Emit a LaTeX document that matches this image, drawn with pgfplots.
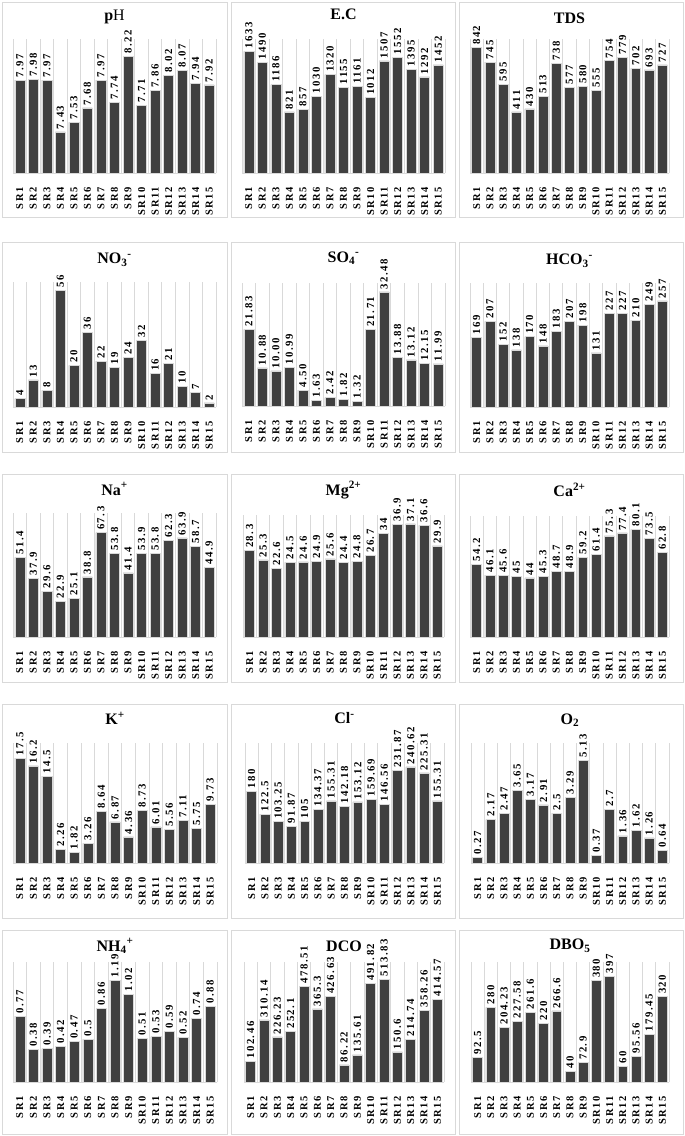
\documentclass[border=0pt]{standalone}
\usepackage{fontspec}
\setmainfont{Liberation Serif}
\newfontfamily\lsp[LetterSpace=15]{Liberation Serif}
\newfontfamily\vsp[LetterSpace=14]{Liberation Serif}
\usepackage{pgfplots}
\pgfplotsset{compat=1.18}
\definecolor{barc}{HTML}{404040}
\definecolor{gridc}{HTML}{D9D9D9}
\definecolor{framec}{HTML}{D9D9D9}
\pgfplotsset{
 panel/.style={
  scale only axis, ybar, bar width=0.74, xmin=0.5, xmax=15.5, ymin=0,
  enlargelimits=false, anchor=south west, clip=false,
  hide y axis, axis x line*=bottom,
  x axis line style={draw=gridc, line width=0.8pt, -},
  xtick={1,...,15},
  xticklabels={SR1,SR2,SR3,SR4,SR5,SR6,SR7,SR8,SR9,SR10,SR11,SR12,SR13,SR14,SR15},
  major tick length=0pt, minor tick length=0pt,
  minor xtick={0.5,1.5,...,15.5}, xminorgrids,
  minor grid style={draw=gridc, line width=0.8pt},
  xticklabel style={rotate=90, anchor=east, inner sep=1pt, font=\lsp\bfseries\fontsize{10.5}{12}\selectfont},
  xticklabel shift=13pt,
  point meta=explicit symbolic, nodes near coords,
  every node near coord/.append style={rotate=90, anchor=west, inner sep=2.5pt, font=\vsp\bfseries\fontsize{10.8}{12}\selectfont, text=black},
  title style={at={(0.5,1)}, anchor=center, font=\bfseries\fontsize{16}{18}\selectfont},
 },
 bars/.style={fill=barc, draw=gridc, line width=0.5pt},
}
\begin{document}
\begin{tikzpicture}
\useasboundingbox (0pt,0pt) rectangle (685pt,-1136pt);
% frames
\foreach \xa/\xb in {2/227,231/455,459/683}{
 \foreach \ya/\yb in {2/217,242/452,474/682,704/918,930/1134}{
  \draw[framec, line width=0.6pt] (\xa pt,-\ya pt) rectangle (\xb pt,-\yb pt);
 }
}
% ---------- Row 1 ----------
\begin{axis}[panel, at={(13pt,-173pt)}, width=203pt, height=134pt, ymin=7, ymax=8.4, title={\textbf{p}\textmd{H}}, title style={yshift=16pt}]
\addplot[bars] coordinates {(1,7.97)[7.97] (2,7.98)[7.98] (3,7.97)[7.97] (4,7.43)[7.43] (5,7.53)[7.53] (6,7.68)[7.68] (7,7.97)[7.97] (8,7.74)[7.74] (9,8.22)[8.22] (10,7.71)[7.71] (11,7.86)[7.86] (12,8.02)[8.02] (13,8.07)[8.07] (14,7.94)[7.94] (15,7.92)[7.92]};
\end{axis}
\begin{axis}[panel, at={(242pt,-173pt)}, width=203pt, height=134pt, ymax=1800, title={E.C}, title style={yshift=19pt}]
\addplot[bars] coordinates {(1,1633)[1633] (2,1490)[1490] (3,1186)[1186] (4,821)[821] (5,857)[857] (6,1030)[1030] (7,1320)[1320] (8,1155)[1155] (9,1161)[1161] (10,1012)[1012] (11,1507)[1507] (12,1552)[1552] (13,1395)[1395] (14,1292)[1292] (15,1452)[1452]};
\end{axis}
\begin{axis}[panel, at={(470pt,-173pt)}, width=199pt, height=134pt, ymax=900, title={TDS}, title style={yshift=15pt}]
\addplot[bars] coordinates {(1,842)[842] (2,745)[745] (3,595)[595] (4,411)[411] (5,430)[430] (6,513)[513] (7,738)[738] (8,577)[577] (9,580)[580] (10,555)[555] (11,754)[754] (12,779)[779] (13,702)[702] (14,693)[693] (15,727)[727]};
\end{axis}
% ---------- Row 2 ----------
\begin{axis}[panel, at={(13pt,-407pt)}, width=203pt, height=125pt, ymax=60, title={NO\textsubscript{3}\textsuperscript{-}}, title style={yshift=16pt}]
\addplot[bars] coordinates {(1,4)[4] (2,13)[13] (3,8)[8] (4,56)[56] (5,20)[20] (6,36)[36] (7,22)[22] (8,19)[19] (9,24)[24] (10,32)[32] (11,16)[16] (12,21)[21] (13,10)[10] (14,7)[7] (15,2)[2]};
\end{axis}
\begin{axis}[panel, at={(242pt,-406pt)}, width=203pt, height=123pt, ymax=35, title={SO\textsubscript{4}\textsuperscript{-}}, title style={yshift=19pt}]
\addplot[bars] coordinates {(1,21.83)[21.83] (2,10.88)[10.88] (3,10.00)[10.00] (4,10.99)[10.99] (5,4.50)[4.50] (6,1.63)[1.63] (7,2.42)[2.42] (8,1.82)[1.82] (9,1.32)[1.32] (10,21.71)[21.71] (11,32.48)[32.48] (12,13.88)[13.88] (13,13.12)[13.12] (14,12.15)[12.15] (15,11.99)[11.99]};
\end{axis}
\begin{axis}[panel, at={(470pt,-407pt)}, width=199pt, height=124pt, ymax=300, title={HCO\textsubscript{3}\textsuperscript{-}}, title style={yshift=16pt}]
\addplot[bars] coordinates {(1,169)[169] (2,207)[207] (3,152)[152] (4,138)[138] (5,170)[170] (6,148)[148] (7,183)[183] (8,207)[207] (9,198)[198] (10,131)[131] (11,227)[227] (12,227)[227] (13,210)[210] (14,249)[249] (15,257)[257]};
\end{axis}
% ---------- Row 3 ----------
\begin{axis}[panel, at={(13pt,-637pt)}, width=203pt, height=124pt, ymax=80, title={Na\textsuperscript{+}}, title style={yshift=18pt}]
\addplot[bars] coordinates {(1,51.4)[51.4] (2,37.9)[37.9] (3,29.6)[29.6] (4,22.9)[22.9] (5,25.1)[25.1] (6,38.8)[38.8] (7,67.3)[67.3] (8,53.8)[53.8] (9,41.4)[41.4] (10,53.9)[53.9] (11,53.8)[53.8] (12,62.3)[62.3] (13,63.9)[63.9] (14,58.7)[58.7] (15,44.9)[44.9]};
\end{axis}
\begin{axis}[panel, at={(243pt,-637pt)}, width=201pt, height=122pt, ymax=40, title={Mg\textsuperscript{2+}}, title style={yshift=19pt}]
\addplot[bars] coordinates {(1,28.3)[28.3] (2,25.3)[25.3] (3,22.6)[22.6] (4,24.5)[24.5] (5,24.6)[24.6] (6,24.9)[24.9] (7,25.6)[25.6] (8,24.4)[24.4] (9,24.8)[24.8] (10,26.7)[26.7] (11,34)[34] (12,36.9)[36.9] (13,37.1)[37.1] (14,36.6)[36.6] (15,29.9)[29.9]};
\end{axis}
\begin{axis}[panel, at={(470pt,-637pt)}, width=199pt, height=121pt, ymax=90, title={Ca\textsuperscript{2+}}, title style={yshift=20pt}]
\addplot[bars] coordinates {(1,54.2)[54.2] (2,46.1)[46.1] (3,45.6)[45.6] (4,45)[45] (5,44)[44] (6,45.3)[45.3] (7,48.7)[48.7] (8,48.9)[48.9] (9,59.2)[59.2] (10,61.4)[61.4] (11,75.3)[75.3] (12,77.4)[77.4] (13,80.1)[80.1] (14,73.5)[73.5] (15,62.8)[62.8]};
\end{axis}
% ---------- Row 4 ----------
\begin{axis}[panel, at={(13pt,-863pt)}, width=204pt, height=120pt, ymax=20, title={K\textsuperscript{+}}, title style={yshift=19pt}]
\addplot[bars] coordinates {(1,17.5)[17.5] (2,16.2)[16.2] (3,14.5)[14.5] (4,2.26)[2.26] (5,1.82)[1.82] (6,3.26)[3.26] (7,8.64)[8.64] (8,6.87)[6.87] (9,4.36)[4.36] (10,8.73)[8.73] (11,6.01)[6.01] (12,5.56)[5.56] (13,7.11)[7.11] (14,5.75)[5.75] (15,9.73)[9.73]};
\end{axis}
\begin{axis}[panel, at={(245pt,-863pt)}, width=199pt, height=120pt, ymax=300, title={Cl\textsuperscript{-}}, title style={yshift=19pt}]
\addplot[bars] coordinates {(1,180)[180] (2,122.5)[122.5] (3,103.25)[103.25] (4,91.87)[91.87] (5,105)[105] (6,134.37)[134.37] (7,155.31)[155.31] (8,142.18)[142.18] (9,153.12)[153.12] (10,159.69)[159.69] (11,146.56)[146.56] (12,231.87)[231.87] (13,240.62)[240.62] (14,225.31)[225.31] (15,155.31)[155.31]};
\end{axis}
\begin{axis}[panel, at={(471pt,-863pt)}, width=198pt, height=120pt, ymax=6, title={O\textsubscript{2}}, title style={yshift=17pt}]
\addplot[bars] coordinates {(1,0.27)[0.27] (2,2.17)[2.17] (3,2.47)[2.47] (4,3.65)[3.65] (5,3.17)[3.17] (6,2.91)[2.91] (7,2.5)[2.5] (8,3.29)[3.29] (9,5.13)[5.13] (10,0.37)[0.37] (11,2.7)[2.7] (12,1.36)[1.36] (13,1.62)[1.62] (14,1.26)[1.26] (15,0.64)[0.64]};
\end{axis}
% ---------- Row 5 ----------
\begin{axis}[panel, at={(13pt,-1082pt)}, width=204pt, height=120pt, ymax=1.4, title={NH\textsubscript{4}\textsuperscript{+}}, title style={yshift=10pt}]
\addplot[bars] coordinates {(1,0.77)[0.77] (2,0.38)[0.38] (3,0.39)[0.39] (4,0.42)[0.42] (5,0.47)[0.47] (6,0.5)[0.5] (7,0.86)[0.86] (8,1.19)[1.19] (9,1.02)[1.02] (10,0.51)[0.51] (11,0.53)[0.53] (12,0.59)[0.59] (13,0.52)[0.52] (14,0.74)[0.74] (15,0.88)[0.88]};
\end{axis}
\begin{axis}[panel, at={(244pt,-1082pt)}, width=200pt, height=120pt, ymax=600, title={DCO}, title style={yshift=10pt}]
\addplot[bars] coordinates {(1,102.46)[102.46] (2,310.14)[310.14] (3,226.23)[226.23] (4,252.1)[252.1] (5,478.51)[478.51] (6,365.3)[365.3] (7,426.63)[426.63] (8,86.22)[86.22] (9,135.61)[135.61] (10,491.82)[491.82] (11,513.83)[513.83] (12,150.6)[150.6] (13,214.74)[214.74] (14,358.26)[358.26] (15,414.57)[414.57]};
\end{axis}
\begin{axis}[panel, at={(471pt,-1082pt)}, width=198pt, height=120pt, ymax=450, title={DBO\textsubscript{5}}, title style={yshift=10pt}]
\addplot[bars] coordinates {(1,92.5)[92.5] (2,280)[280] (3,204.23)[204.23] (4,227.58)[227.58] (5,261.6)[261.6] (6,220)[220] (7,266.6)[266.6] (8,40)[40] (9,72.9)[72.9] (10,380)[380] (11,397)[397] (12,60)[60] (13,95.56)[95.56] (14,179.45)[179.45] (15,320)[320]};
\end{axis}
\end{tikzpicture}
\end{document}
